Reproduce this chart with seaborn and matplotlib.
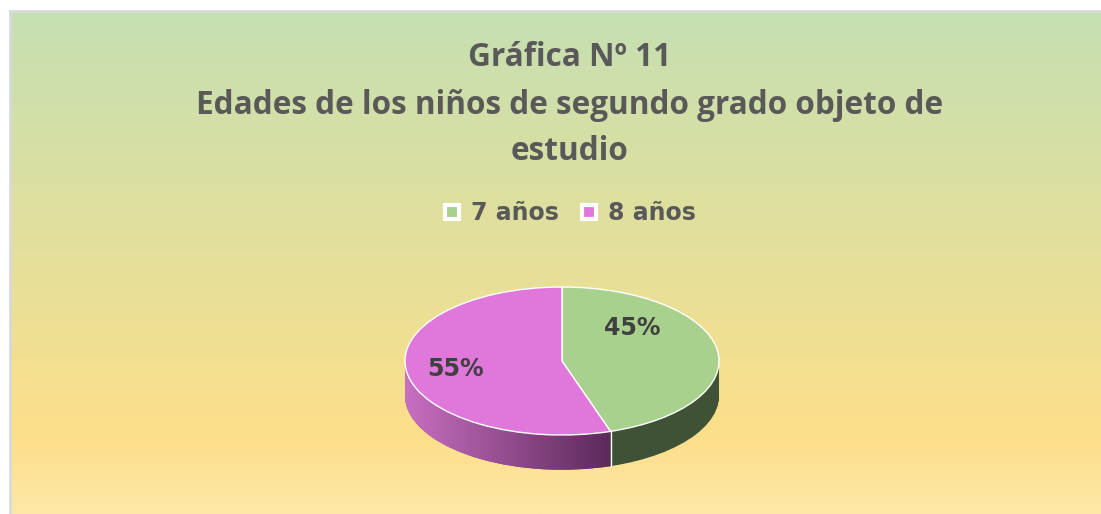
import numpy as np
import matplotlib
matplotlib.use('Agg')
import matplotlib.pyplot as plt
import seaborn as sns
from matplotlib.colors import LinearSegmentedColormap
from matplotlib.path import Path
from matplotlib.patches import PathPatch
from matplotlib.lines import Line2D

# ---- data ----
categories = ['7 años', '8 años']
values = [45, 55]
top_colors = ['#A9D18E', '#E077DA']
side_colors = ['#3F5236', '#8E4A8A']
title_lines = ['Gráfica Nº 11',
               'Edades de los niños de segundo grado objeto de',
               'estudio']

sns.set_theme(style='white')
plt.rcParams['font.family'] = ['DejaVu Sans']

W, H = 1101, 514
fig = plt.figure(figsize=(W / 100, H / 100), dpi=100)
fig.patch.set_facecolor('white')

# ---- gradient background ----
bg = fig.add_axes([10 / W, 0, (W - 10) / W, (H - 11) / H])
grad_cmap = LinearSegmentedColormap.from_list(
    'bg', [(0, '#C5DFB2'), (0.45, '#E2E09C'), (0.85, '#FDDF8A'), (1, '#FEE8A8')])
bg.imshow(np.linspace(0, 1, 256)[:, None], aspect='auto', cmap=grad_cmap,
          extent=[0, 1, 0, 1])
bg.set_xticks([])
bg.set_yticks([])
for s in ['right', 'bottom']:
    bg.spines[s].set_visible(False)
for s in ['top', 'left']:
    bg.spines[s].set_color('#D9D9D9')
    bg.spines[s].set_linewidth(2)

# ---- 3D-ish pie ----
ax = fig.add_axes([365.75 / W, 19.8 / H, 392.5 / W, 225.7 / H])
d = 0.47
N = 48
offsets = np.linspace(d, 0, N, endpoint=False)
pink_paths = []
for off in offsets:
    ws, _ = ax.pie(values, colors=side_colors, startangle=90, counterclock=False,
                   center=(0, -off), wedgeprops=dict(linewidth=0, zorder=1))
    pink_paths.append(ws[1].get_path())

wedges, texts, autotexts = ax.pie(
    values, colors=top_colors, startangle=90, counterclock=False,
    autopct='%1.0f%%', pctdistance=0.69,
    wedgeprops=dict(edgecolor='white', linewidth=1, zorder=3),
    textprops=dict(weight='bold', size=17, color='#404040', zorder=5,
                   family=['DejaVu Sans']))

theta = np.radians(wedges[0].theta1)
bx, by = np.cos(theta), np.sin(theta)

side_cmap = LinearSegmentedColormap.from_list('side', ['#C86FC1', '#5C2A5A'])
im = ax.imshow(np.linspace(0, 1, 256)[None, :], aspect='auto', cmap=side_cmap,
               extent=[-1, bx, -1 - d, 0.1], zorder=2)
clip = PathPatch(Path.make_compound_path(*pink_paths), transform=ax.transData,
                 facecolor='none', edgecolor='none')
im.set_clip_path(clip)

ax.plot([bx, bx], [by, by - d], color='white', lw=1, zorder=2.5)

autotexts[0].set_position((0.45, 0.45))

ax.set_aspect('auto')
ax.set_xlim(-1.25, 1.25)
ax.set_ylim(-1.8, 1.25)
ax.axis('off')

# ---- title ----
for txt, ypx in zip(title_lines, [57, 106, 151]):
    fig.text(570 / W, 1 - ypx / H, txt, ha='center', va='center',
             family=['Open Sans', 'DejaVu Sans'], weight='bold', size=22.7,
             color='#595959')

# ---- legend ----
handles = [Line2D([], [], ls='none', marker='s', markersize=9.5,
                  markerfacecolor=c, markeredgecolor='white', markeredgewidth=3)
           for c in top_colors]
fig.legend(handles, categories, loc='center', bbox_to_anchor=(568 / W, 1 - 213 / H),
           ncol=2, frameon=False, prop=dict(weight='bold', size=17,
                                            family=['DejaVu Sans']),
           labelcolor='#595959', handletextpad=0.3, columnspacing=0.8,
           handlelength=1)

fig.savefig('out.png', dpi=100, facecolor='white')
